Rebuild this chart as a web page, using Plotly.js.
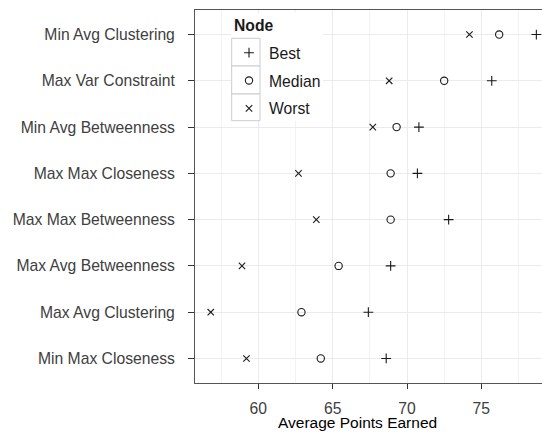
<!DOCTYPE html>
<html>
<head>
<meta charset="utf-8">
<script src="https://cdn.plot.ly/plotly-3.0.1.min.js"></script>
<style>html,body{margin:0;padding:0;background:#fff;}#chart{width:542px;height:433px;}</style>
</head>
<body>
<div id="chart"></div>
<script>
// Categories, listed bottom to top
const strategies = [
  "Min Max Closeness",
  "Max Avg Clustering",
  "Max Avg Betweenness",
  "Max Max Betweenness",
  "Max Max Closeness",
  "Min Avg Betweenness",
  "Max Var Constraint",
  "Min Avg Clustering"
];
const bestValues   = [68.6, 67.4, 68.9, 72.8, 70.7, 70.8, 75.7, 78.7];
const medianValues = [64.2, 62.9, 65.4, 68.9, 68.9, 69.3, 72.5, 76.2];
const worstValues  = [59.2, 56.8, 58.9, 63.9, 62.7, 67.7, 68.8, 74.2];
const xTickValues  = [60, 65, 70, 75];
const seriesNames  = ["Best", "Median", "Worst"];

const FONT = "Liberation Sans, Arial, sans-serif";
const FS = 15.7;
const ink = "#1a1a1a";

function mk(name, xs, symbol, size, group) {
  return {
    type: "scatter", mode: "markers", name: name, legendgroup: group,
    x: xs, y: strategies,
    marker: {symbol: symbol, size: size, color: ink, line: {color: ink, width: 1.1}},
    hoverinfo: "x+y"
  };
}

const traces = [
  mk(seriesNames[0], bestValues, "cross-thin-open", 7, "g1"),
  mk(seriesNames[1], medianValues, "circle-open", 7.3, "g2"),
  mk(seriesNames[2], worstValues, "x-thin-open", 6.4, "g3")
];

// plot box in px: left 195, right 542, top 10, bottom 383
const L = 195, R = 542, T = 10, B = 383;
const W = R - L, H = B - T;
const px = v => (v - L) / W;
const py = v => 1 - (v - T) / H;

const keyBoxes = [[38.3, 66], [66, 94], [94, 120.7]];
const shapes = [
  {type: "rect", xref: "paper", yref: "paper", layer: "above",
   x0: px(231), x1: px(323), y0: py(121), y1: py(13),
   fillcolor: "#ffffff", line: {width: 0}}
].concat(keyBoxes.map(b => ({
  type: "rect", xref: "paper", yref: "paper", layer: "above",
  x0: px(231.7), x1: px(260), y0: py(b[1]), y1: py(b[0]),
  fillcolor: "#ffffff", line: {color: "#cccccc", width: 1}
})));

const layout = {
  width: 542, height: 433,
  margin: {l: L, r: 0, t: T, b: 433 - B, pad: 0},
  paper_bgcolor: "#ffffff", plot_bgcolor: "#ffffff",
  font: {family: FONT, size: FS, color: "#404040"},
  showlegend: true,
  legend: {
    x: px(229), y: py(36), xanchor: "left", yanchor: "top",
    bgcolor: "rgba(0,0,0,0)", borderwidth: 0,
    tracegroupgap: 4.4,
    font: {family: FONT, size: FS, color: "#1a1a1a"}
  },
  xaxis: {
    range: [55.74, 79.08],
    tickvals: xTickValues,
    ticks: "outside", ticklen: 5, tickcolor: "#333333", tickwidth: 1,
    ticklabelstandoff: 6,
    showgrid: true, gridcolor: "#ebebeb", gridwidth: 1,
    minor: {dtick: 2.5, tick0: 57.5, showgrid: true, gridcolor: "#f2f2f2", gridwidth: 1},
    showline: true, mirror: true, linecolor: "#555555", linewidth: 1,
    zeroline: false, tickfont: {size: FS, color: "#404040"},
    fixedrange: true
  },
  yaxis: {
    type: "category", categoryorder: "array", categoryarray: strategies,
    range: [-0.53, 7.53],
    ticks: "outside", ticklen: 6, tickcolor: "#333333", tickwidth: 1,
    ticklabelstandoff: 10,
    showgrid: true, gridcolor: "#ebebeb", gridwidth: 1,
    showline: true, mirror: false, linecolor: "#555555", linewidth: 1,
    zeroline: false, tickfont: {size: FS, color: "#404040"},
    fixedrange: true
  },
  shapes: shapes,
  annotations: [
    {text: "Average Points Earned", xref: "paper", yref: "paper",
     x: px(357), y: py(433), xanchor: "center", yanchor: "bottom",
     showarrow: false, font: {family: FONT, size: 15.5, color: "#000000"}},
    {text: "<b>Node</b>", xref: "paper", yref: "paper",
     x: px(232), y: py(25), xanchor: "left", yanchor: "middle",
     showarrow: false, font: {family: FONT, size: FS, color: "#1a1a1a"}}
  ]
};

Plotly.newPlot("chart", traces, layout, {displayModeBar: false, staticPlot: true});
</script>
</body>
</html>
